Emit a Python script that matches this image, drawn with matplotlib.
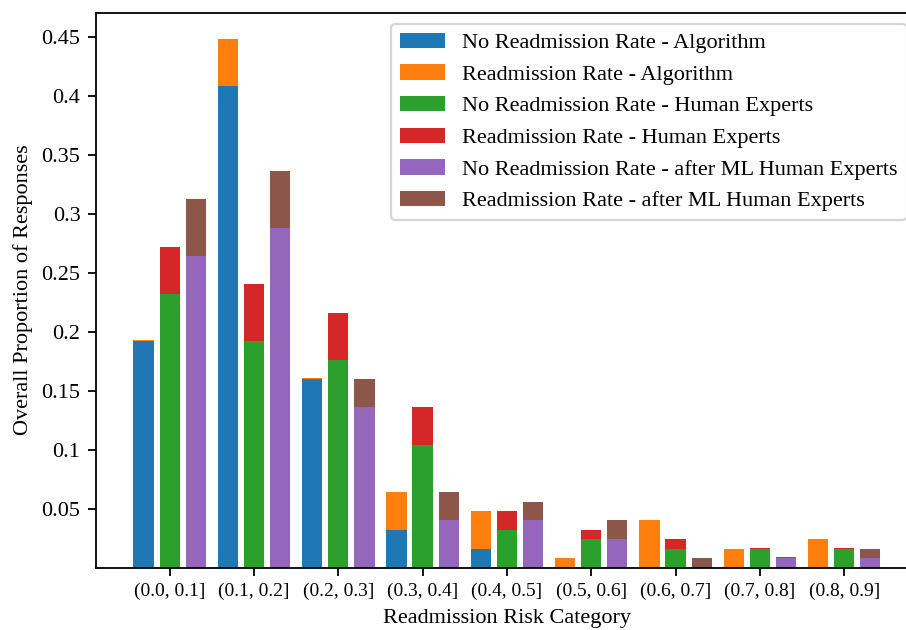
import numpy as np
import matplotlib
matplotlib.use("Agg")
import matplotlib.pyplot as plt

plt.rcParams["font.family"] = ["Liberation Serif", "DejaVu Serif"]
plt.rcParams["font.size"] = 16
plt.rcParams["axes.linewidth"] = 1.3
plt.rcParams["xtick.major.width"] = 1.3
plt.rcParams["ytick.major.width"] = 1.3
plt.rcParams["xtick.major.size"] = 5.6
plt.rcParams["ytick.major.size"] = 5.6
plt.rcParams["xtick.major.pad"] = 5.6
plt.rcParams["ytick.major.pad"] = 5.6
plt.rcParams["axes.labelpad"] = 6.4
plt.rcParams["patch.linewidth"] = 1.6

categories = ["(0.0, 0.1]", "(0.1, 0.2]", "(0.2, 0.3]", "(0.3, 0.4]", "(0.4, 0.5]",
              "(0.5, 0.6]", "(0.6, 0.7]", "(0.7, 0.8]", "(0.8, 0.9]"]

# proportions per risk bucket (no readmission / readmission)
algo_no = [0.192, 0.408, 0.160, 0.032, 0.016, 0.0, 0.0, 0.0, 0.0]
algo_yes = [0.001, 0.040, 0.001, 0.032, 0.032, 0.008, 0.040, 0.016, 0.024]
human_no = [0.232, 0.192, 0.176, 0.104, 0.032, 0.024, 0.016, 0.016, 0.016]
human_yes = [0.040, 0.048, 0.040, 0.032, 0.016, 0.008, 0.008, 0.001, 0.001]
ml_no = [0.264, 0.288, 0.136, 0.040, 0.040, 0.024, 0.0, 0.008, 0.008]
ml_yes = [0.048, 0.048, 0.024, 0.024, 0.016, 0.016, 0.008, 0.001, 0.008]

yticks = [0.05, 0.1, 0.15, 0.2, 0.25, 0.3, 0.35, 0.4, 0.45]

fig = plt.figure(figsize=(9.06, 6.3), dpi=100)
ax = fig.add_axes([0.106, 0.099, 0.907, 0.881])

x = np.arange(len(categories))
w = 0.24
off = 0.31

groups = [
    (algo_no, algo_yes, -off, "Algorithm", "tab:blue", "tab:orange"),
    (human_no, human_yes, 0.0, "Human Experts", "tab:green", "tab:red"),
    (ml_no, ml_yes, off, "after ML Human Experts", "tab:purple", "tab:brown"),
]
for no, yes, dx, name, c_no, c_yes in groups:
    ax.bar(x + dx, no, width=w, color=c_no, linewidth=0, label=f"No Readmission Rate - {name}")
    ax.bar(x + dx, yes, width=w, bottom=no, color=c_yes, linewidth=0,
           label=f"Readmission Rate - {name}")

ax.set_xticks(x)
ax.set_xticklabels(categories, fontsize=14)
ax.set_yticks(yticks)
ax.set_yticklabels([f"{t:g}" for t in yticks])
ax.set_xlim(-0.873, 8.873)
ax.set_ylim(0, 0.4704)

ax.set_xlabel("Readmission Risk Category")
ax.set_ylabel("Overall Proportion of Responses")

ax.legend(loc="upper right")

fig.savefig("out.png", dpi=100)
